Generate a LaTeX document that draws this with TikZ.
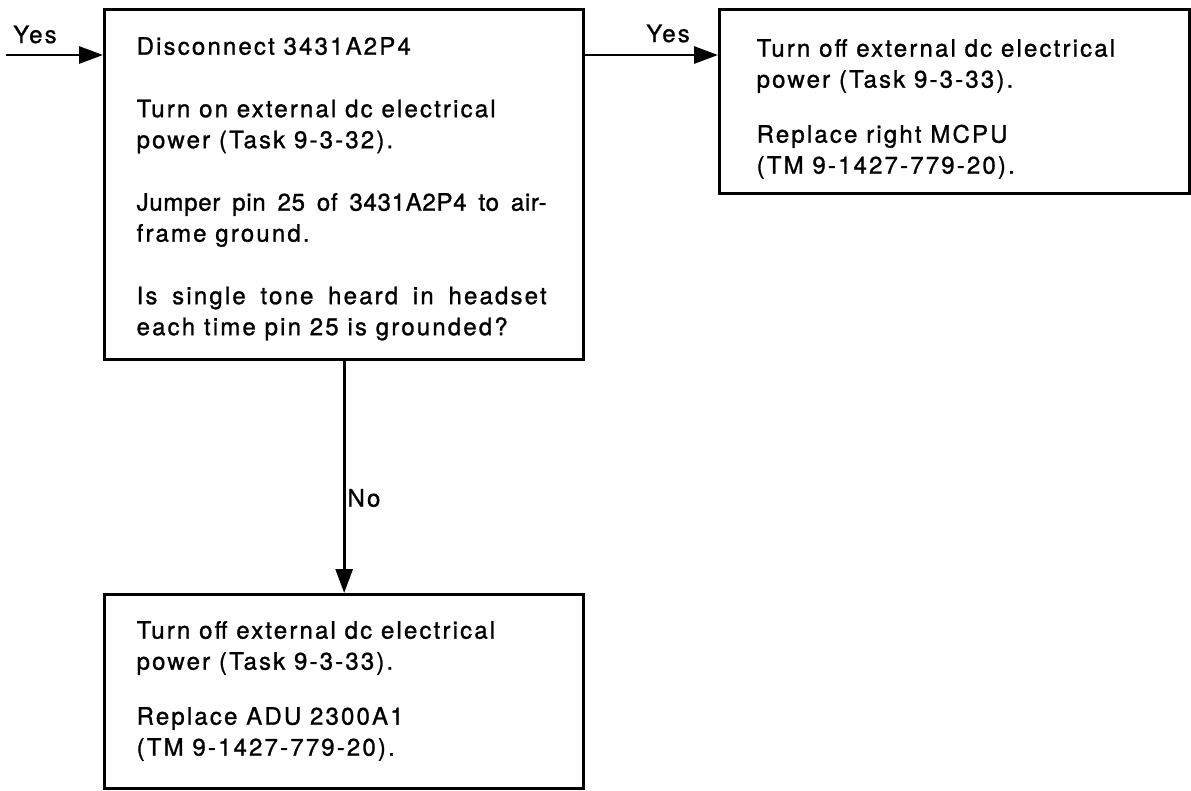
\documentclass[tikz,border=0pt]{standalone}
\usepackage{fontspec}
\setmainfont{TeX Gyre Heros}[LetterSpace=9,FakeBold=1.1]
\newfontfamily\tightfont{TeX Gyre Heros}[LetterSpace=3,FakeBold=1.1]
\usepackage{tikz}
\usetikzlibrary{arrows.meta}

\tikzset{
  stepbox/.style={draw,line width=3.3pt,anchor=north west,inner xsep=32pt,inner ysep=0pt},
  flow/.style={line width=2.8pt,-{Triangle[length=24pt,width=17pt]}},
  tag/.style={inner sep=0pt,anchor=base west},
}

\begin{document}
\begin{tikzpicture}[x=1pt,y=-1pt,font=\fontsize{24}{31}\selectfont]
\useasboundingbox (0,0) rectangle (1191,790);
% the check itself
\node[stepbox] (check) at (103,8) {\parbox[t][350pt][t]{415pt}{\rule{0pt}{45pt}Disconnect 3431A2P4\\[31.5pt]
  Turn on external dc electrical\\
  power (Task 9-3-32).\\[31.5pt]
  \makebox[410pt][s]{\tightfont Jumper pin 25 of 3431A2P4 to air-}\\
  frame ground.\\[31.5pt]
  \makebox[410pt][s]{Is single tone heard in headset}\\
  each time pin 25 is grounded?}};
% the two outcomes
\node[stepbox,inner xsep=37pt] (mcpu) at (718,8) {\parbox[t][184pt][t]{396pt}{\rule{0pt}{47pt}Turn off external dc electrical\\
  power (Task 9-3-33).\\[24pt]
  Replace right MCPU\\
  (TM 9-1427-779-20).}};
\node[stepbox] (adu) at (103,593) {\parbox[t][194pt][t]{415pt}{\rule{0pt}{44pt}Turn off external dc electrical\\
  power (Task 9-3-33).\\[24pt]
  Replace ADU 2300A1\\
  (TM 9-1427-779-20).}};
% connectors
\coordinate (entry) at (6,55);
\node[tag] (yesin) at (13,43) {Yes};
\draw[flow] (entry) -- (entry -| check.west);
\draw[flow] (check.east |- entry) -- (mcpu.west |- entry);
\node[tag,anchor=base east] (yesout) at (690,42) {Yes};
\draw[flow] (check.south) -- node[pos=0.59,anchor=west,inner sep=2pt] (nolbl) {No} (adu.north);
\end{tikzpicture}
\end{document}
